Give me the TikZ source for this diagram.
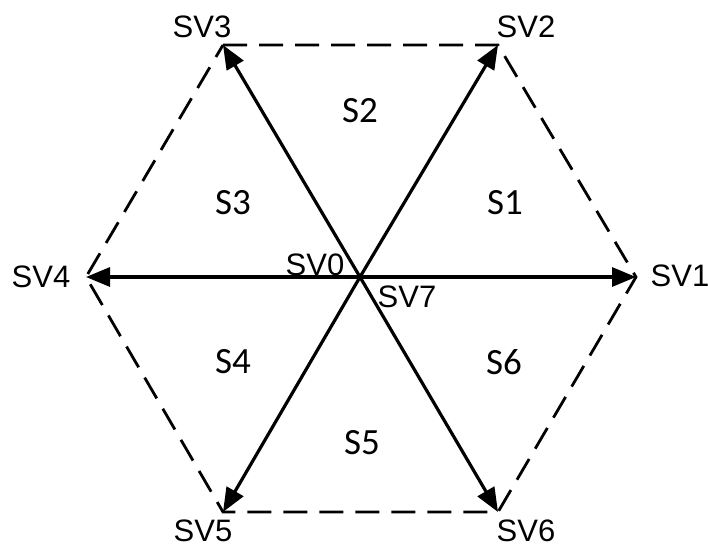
\documentclass[tikz,border=0pt]{standalone}
\usepackage{fontspec}
\setmainfont{Liberation Sans}
\newfontfamily\secfont{Carlito}
\usetikzlibrary{arrows.meta}
\begin{document}
\begin{tikzpicture}[x=1pt,y=-1pt,
  vec/.style={line width=3.2pt,-{Triangle[length=24pt,width=19pt]}},
  hexedge/.style={line width=2.8pt,dash pattern=on 24pt off 12pt},
  svlabel/.style={font=\fontsize{31}{31}\selectfont,inner sep=0pt},
  seclabel/.style={font=\secfont\fontsize{37}{37}\selectfont,inner sep=0pt}]
\useasboundingbox (0,0) rectangle (708,547);
% origin and the six active vectors
\coordinate (c)  at (360,277);
\coordinate (v1) at (636,277);
\coordinate (v2) at (498,45);
\coordinate (v3) at (223,45);
\coordinate (v4) at (86,277);
\coordinate (v5) at (223,512);
\coordinate (v6) at (498,512);
% dashed hexagon
\draw[hexedge] (v3) -- (v2) -- (v1) -- (v6) -- (v5) -- (v4) -- cycle;
% vectors
\foreach \v in {v1,v2,v3,v4,v5,v6}
  \draw[vec] (c) -- (\v);
% vector labels
\node[svlabel] (l1) at (680,276) {SV1};
\node[svlabel] (l2) at (526,27) {SV2};
\node[svlabel] (l3) at (202,27) {SV3};
\node[svlabel] (l4) at (41,277) {SV4};
\node[svlabel] (l5) at (203,531) {SV5};
\node[svlabel] (l6) at (526,531) {SV6};
\node[svlabel] (l0) at (315,265) {SV0};
\node[svlabel] (l7) at (407,297) {SV7};
% sector labels
\node[seclabel] (s1) at (505,203) {S1};
\node[seclabel] (s2) at (360,111) {S2};
\node[seclabel] (s3) at (233,203) {S3};
\node[seclabel] (s4) at (233,362) {S4};
\node[seclabel] (s5) at (362,443) {S5};
\node[seclabel] (s6) at (504,362) {S6};
\end{tikzpicture}
\end{document}
